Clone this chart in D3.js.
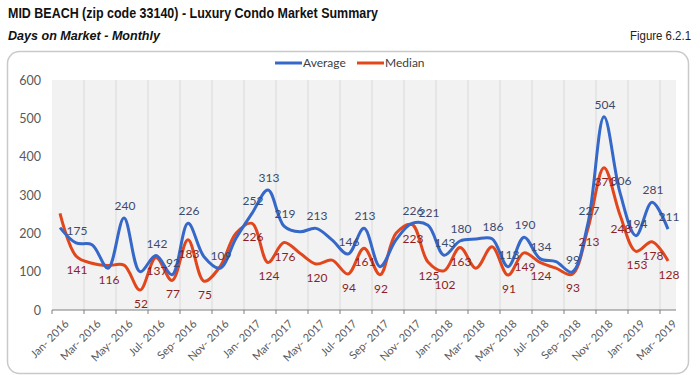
<!DOCTYPE html>
<html>
<head>
<meta charset="utf-8">
<script src="https://cdn.jsdelivr.net/npm/d3@7"></script>
<style>
  body { margin: 0; background: #fff; }
  svg { display: block; }
  .title { font-family: "Liberation Sans Narrow", "Arial Narrow", "Liberation Sans", sans-serif; }
  .lbl { font-family: Lato, "Open Sans", sans-serif; }
</style>
</head>
<body>
<div id="chart"></div>
<script>
// ------------------------------------
// Days on Market - Monthly (Mid Beach)
// ------------------------------------

const months = [
  "Jan- 2016", "Feb- 2016", "Mar- 2016", "Apr- 2016", "May- 2016", "Jun- 2016",
  "Jul- 2016", "Aug- 2016", "Sep- 2016", "Oct- 2016", "Nov- 2016", "Dec- 2016",
  "Jan- 2017", "Feb- 2017", "Mar- 2017", "Apr- 2017", "May- 2017", "Jun- 2017",
  "Jul- 2017", "Aug- 2017", "Sep- 2017", "Oct- 2017", "Nov- 2017", "Dec- 2017",
  "Jan- 2018", "Feb- 2018", "Mar- 2018", "Apr- 2018", "May- 2018", "Jun- 2018",
  "Jul- 2018", "Aug- 2018", "Sep- 2018", "Oct- 2018", "Nov- 2018", "Dec- 2018",
  "Jan- 2019", "Feb- 2019", "Mar- 2019"
];

const average = [
  215, 175, 170, 109, 240, 100, 142, 92, 226, 139, 109, 187,
  252, 313, 219, 204, 213, 183, 146, 213, 113, 183, 226, 221,
  143, 180, 185, 186, 113, 190, 134, 126, 99, 227, 504, 306,
  194, 281, 211
];

const median = [
  252, 141, 122, 116, 117, 52, 137, 77, 183, 75, 113, 200,
  226, 124, 176, 148, 120, 130, 94, 161, 92, 200, 223, 125,
  102, 163, 109, 165, 91, 149, 124, 109, 93, 213, 371, 248,
  153, 178, 128
];

// which points carry a data label (1 = shown)
const averageLabelled = [
  0, 1, 0, 0, 1, 0, 1, 1, 1, 0, 1, 0,
  1, 1, 1, 0, 1, 0, 1, 1, 0, 0, 1, 1,
  1, 1, 0, 1, 1, 1, 1, 0, 1, 1, 1, 1,
  1, 1, 1
];
const medianLabelled = [
  0, 1, 0, 1, 0, 1, 1, 1, 1, 1, 0, 0,
  1, 1, 1, 0, 1, 0, 1, 1, 1, 0, 1, 1,
  1, 1, 0, 0, 1, 1, 1, 0, 1, 1, 1, 1,
  1, 1, 1
];

const yTicks = [0, 100, 200, 300, 400, 500, 600];

const width = 700, height = 388;
const plot = { left: 52, right: 676, top: 80, bottom: 310 };

const svg = d3.select("#chart").append("svg")
    .attr("width", width)
    .attr("height", height);

// header texts (narrow font is squeezed to the original widths)
svg.append("text").attr("class", "title")
    .attr("x", 8).attr("y", 18)
    .attr("font-size", 14).attr("font-weight", "bold").attr("fill", "#111")
    .attr("textLength", 370).attr("lengthAdjust", "spacingAndGlyphs")
    .text("MID BEACH (zip code 33140) - Luxury Condo Market Summary");
svg.append("text").attr("class", "title")
    .attr("x", 8).attr("y", 40)
    .attr("font-size", 13).attr("font-weight", "bold").attr("font-style", "italic").attr("fill", "#111")
    .attr("textLength", 152).attr("lengthAdjust", "spacingAndGlyphs")
    .text("Days on Market - Monthly");
svg.append("text").attr("class", "title")
    .attr("x", 630).attr("y", 40)
    .attr("font-size", 13).attr("fill", "#222")
    .attr("textLength", 61).attr("lengthAdjust", "spacingAndGlyphs")
    .text("Figure 6.2.1");

// chart frame
svg.append("rect")
    .attr("x", 7.5).attr("y", 51.5)
    .attr("width", 681).attr("height", 322)
    .attr("rx", 12)
    .attr("fill", "#fff")
    .attr("stroke", "#c9c9c9")
    .attr("stroke-width", 1.5);

// scales
const x = d3.scaleBand().domain(months).range([plot.left, plot.right]).padding(0);
const y = d3.scaleLinear().domain([0, 600]).range([plot.bottom, plot.top]);
const cx = d => x(d) + x.bandwidth() / 2;

// plot background
svg.append("rect")
    .attr("x", plot.left).attr("y", plot.top)
    .attr("width", plot.right - plot.left).attr("height", plot.bottom - plot.top)
    .attr("fill", "#f2f2f2");

const tickMonths = months.filter((m, i) => i % 2 === 0);

// vertical gridlines
svg.append("g").selectAll("line")
    .data(tickMonths.slice(1))
    .join("line")
    .attr("x1", d => x(d)).attr("x2", d => x(d))
    .attr("y1", plot.top).attr("y2", plot.bottom)
    .attr("stroke", "#dadada").attr("stroke-width", 1);

// y axis
const yAxis = svg.append("g")
    .attr("transform", `translate(${plot.left},0)`)
    .call(d3.axisLeft(y).tickValues(yTicks).tickSize(0).tickPadding(11));
yAxis.select(".domain").remove();
yAxis.selectAll("text")
    .attr("class", "lbl")
    .attr("font-size", 12.5)
    .attr("fill", "#595959");

// x axis line + ticks
svg.append("line")
    .attr("x1", plot.left).attr("x2", plot.right)
    .attr("y1", plot.bottom).attr("y2", plot.bottom)
    .attr("stroke", "#7f7f7f").attr("stroke-width", 1);
svg.append("g").selectAll("line")
    .data(tickMonths)
    .join("line")
    .attr("x1", d => x(d)).attr("x2", d => x(d))
    .attr("y1", plot.bottom).attr("y2", plot.bottom + 4)
    .attr("stroke", "#7f7f7f");

svg.append("g").selectAll("text")
    .data(tickMonths)
    .join("text")
    .attr("class", "lbl")
    .attr("transform", d => `translate(${cx(d) + 4},${plot.bottom + 9}) rotate(-45)`)
    .attr("text-anchor", "end")
    .attr("dy", "0.7em")
    .attr("font-size", 11)
    .attr("fill", "#595959")
    .text(d => d);

// lines
const series = [
  { name: "Average", values: average, shown: averageLabelled, color: "#3568c8", labelColor: "#3c4a6e", above: true },
  { name: "Median", values: median, shown: medianLabelled, color: "#e2461c", labelColor: "#8e1f1f", above: false }
];

const line = d3.line()
    .x((v, i) => cx(months[i]))
    .y(v => y(v))
    .curve(d3.curveCatmullRom.alpha(0.5));

series.slice().reverse().forEach(s => {
  svg.append("path")
      .datum(s.values)
      .attr("d", line)
      .attr("fill", "none")
      .attr("stroke", s.color)
      .attr("stroke-width", 3)
      .attr("stroke-linejoin", "round");
});

// data labels
series.forEach(s => {
  svg.append("g").selectAll("text")
      .data(s.values.map((v, i) => ({ v, i })).filter(d => s.shown[d.i]))
      .join("text")
      .attr("class", "lbl")
      .attr("x", d => cx(months[d.i]) + 1)
      .attr("y", d => s.above ? y(d.v) - 8 : y(d.v) + 18)
      .attr("text-anchor", "middle")
      .attr("font-size", 12)
      .attr("fill", s.labelColor)
      .text(d => d.v);
});

// legend
const legend = svg.append("g").attr("transform", "translate(275,63)");
const lx = [0, 82];
series.forEach((s, i) => {
  const g = legend.append("g").attr("transform", `translate(${lx[i]},0)`);
  g.append("line")
      .attr("x1", 0).attr("x2", 27)
      .attr("stroke", s.color).attr("stroke-width", 3);
  g.append("text")
      .attr("class", "lbl")
      .attr("x", 28).attr("y", 4)
      .attr("font-size", 12)
      .attr("fill", "#404040")
      .text(s.name);
});
</script>
</body>
</html>
